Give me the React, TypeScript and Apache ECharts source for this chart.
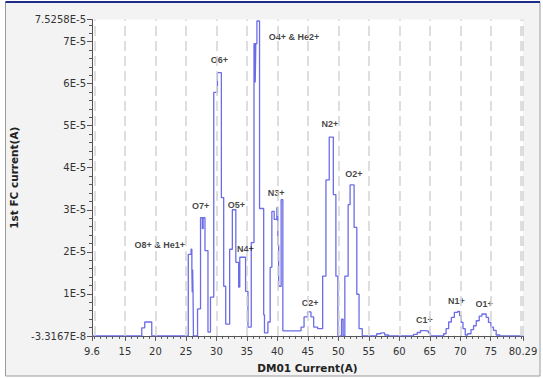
import React, { useEffect, useRef } from "react";
import * as echarts from "echarts";

// Bin start (A) of each step of the trace
const binStart = [
  9.6, 17.76, 18.25, 19.4, 25.39, 25.85, 25.98, 26.04, 26.11, 26.17, 26.24, 26.91,
  27.4, 27.7, 27.83, 28.13, 28.62, 29.03, 29.57, 30.17, 30.82, 31.2, 31.53, 32.18,
  32.62, 33.19, 33.65, 33.84, 34.79, 35.18, 35.72, 36.17, 36.37, 36.47, 36.65, 37.08,
  37.76, 37.89, 38.45, 38.82, 39.1, 39.48, 39.92, 40.08, 40.21, 40.62, 40.9, 43.89,
  44.38, 44.95, 45.52, 45.96, 46.61, 47.43, 47.97, 48.51, 49.18, 49.6, 49.93, 50.53,
  50.79, 51.07, 51.61, 51.93, 52.59, 53.03, 53.4, 53.93, 56.29, 56.95, 57.6, 58.25,
  62.33, 62.94, 63.48, 64.3, 64.78, 65.11, 67.28, 67.67, 68.1, 68.54, 69.03, 69.57,
  69.89, 70.17, 70.45, 70.82, 71.2, 71.76, 72.18, 72.62, 73.11, 73.55, 74.25, 74.63,
  75.02, 75.44, 75.89, 76.5, 80.29,
];
// FC current (A) held over each bin
const fcCurrent = [
  0, 0.19e-5, 0.33e-5, 0, 1.94e-5, 2.06e-5, 1.58e-5, 1.04e-5, 1.58e-5, 1.04e-5, 0, 0.64e-5,
  2.81e-5, 2.55e-5, 2.81e-5, 2.03e-5, 0.09e-5, 0.92e-5, 5.79e-5, 6.26e-5, 3.29e-5, 1.18e-5, 0.28e-5, 2.06e-5,
  3.0e-5, 1.75e-5, 1.16e-5, 1.87e-5, 1.06e-5, 0.21e-5, 2.22e-5, 6.95e-5, 6.03e-5, 6.95e-5, 7.49e-5, 3.03e-5,
  0.5e-5, 0.07e-5, 0.33e-5, 1.63e-5, 2.96e-5, 2.77e-5, 3.05e-5, 2.17e-5, 1.18e-5, 3.24e-5, 0.12e-5, 0.21e-5,
  0.45e-5, 0.57e-5, 0.45e-5, 0.21e-5, 0.17e-5, 1.42e-5, 3.71e-5, 4.73e-5, 3.36e-5, 1.42e-5, 0, 0.4e-5,
  0, 1.42e-5, 3.12e-5, 3.59e-5, 2.58e-5, 0.99e-5, 0.17e-5, 0, 0.05e-5, 0.07e-5, 0.02e-5, 0,
  0.035e-5, 0.08e-5, 0.125e-5, 0.11e-5, 0.07e-5, 0, 0.05e-5, 0.17e-5, 0.33e-5, 0.44e-5, 0.56e-5, 0.58e-5,
  0.48e-5, 0.32e-5, 0.17e-5, 0.02e-5, 0.05e-5, 0.15e-5, 0.24e-5, 0.36e-5, 0.47e-5, 0.52e-5, 0.44e-5, 0.32e-5,
  0.21e-5, 0.13e-5, 0.02e-5, 0, 0,
];

// Peak annotations
const peakNames = ["O8+ & He1+", "O7+", "O6+", "O5+", "N4+", "O4+ & He2+", "N3+", "C2+", "N2+", "O2+", "C1+", "N1+", "O1+"];
const peakX = [20.7, 27.4, 30.5, 33.27, 34.74, 42.74, 39.8, 45.36, 48.62, 52.54, 64.13, 69.36, 73.93];
const peakY = [2.15e-5, 3.1e-5, 6.57e-5, 3.12e-5, 2.06e-5, 7.12e-5, 3.4e-5, 0.78e-5, 5.04e-5, 3.85e-5, 0.38e-5, 0.83e-5, 0.76e-5];

// Axes
const xMin = 9.6;
const xMax = 80.29;
const xTickValues = [9.6, 15, 20, 25, 30, 35, 40, 45, 50, 55, 60, 65, 70, 75, 80.29];
const xTickLabels = ["9.6", "15", "20", "25", "30", "35", "40", "45", "50", "55", "60", "65", "70", "75", "80.29"];
const xMinorTicks = Array.from({ length: 71 }, (_, i) => 10 + i);
const xGridLines = [10, 15, 20, 25, 30, 35, 40, 45, 50, 55, 60, 65, 70, 75, 80, 80.29];

const yMin = -3.3167e-8;
const yMax = 7.5258e-5;
const yTickValues = [-3.3167e-8, 1e-5, 2e-5, 3e-5, 4e-5, 5e-5, 6e-5, 7e-5, 7.5258e-5];
const yTickLabels = ["-3.3167E-8", "1E-5", "2E-5", "3E-5", "4E-5", "5E-5", "6E-5", "7E-5", "7.5258E-5"];
const yMinorTicks = Array.from({ length: 37 }, (_, i) => (i + 1) * 2e-6);

const FONT = "DejaVu Sans";

function nearestLabel(v: number, vals: number[], labels: string[]) {
  let best = 0;
  for (let i = 1; i < vals.length; i++) {
    if (Math.abs(vals[i] - v) < Math.abs(vals[best] - v)) best = i;
  }
  return labels[best];
}

export default function App() {
  const ref = useRef<HTMLDivElement>(null);
  useEffect(() => {
    if (!ref.current) return;
    const chart = echarts.init(ref.current, null, { renderer: "svg" });
    const axisLineStyle = { color: "#555", width: 1 };
    chart.setOption({
      animation: false,
      backgroundColor: "#ffffff",
      graphic: [
        {
          type: "rect",
          z: -10,
          shape: { x: 5.5, y: 2, width: 534.5, height: 374 },
          style: { fill: "#f3f3f3", stroke: "#9a9a9a", lineWidth: 1 },
        },
        {
          type: "line",
          z: -9,
          shape: { x1: 5.5, y1: 2, x2: 540, y2: 2 },
          style: { stroke: "#1c2c88", lineWidth: 2 },
        },
      ],
      grid: {
        left: 91,
        right: 20,
        top: 19.5,
        bottom: 41,
        show: true,
        backgroundColor: "#ffffff",
        borderWidth: 0,
      },
      xAxis: [
        {
          type: "value",
          min: xMin,
          max: xMax,
          name: "DM01 Current(A)",
          nameLocation: "middle",
          nameGap: 26,
          nameTextStyle: { fontFamily: FONT, fontSize: 10.5, fontWeight: "bold", color: "#222" },
          axisLine: { show: true, lineStyle: axisLineStyle },
          axisTick: { show: true, length: 5, customValues: xTickValues, lineStyle: axisLineStyle },
          axisLabel: {
            customValues: xTickValues,
            fontFamily: FONT,
            fontSize: 10,
            color: "#333",
            margin: 10,
            formatter: (v: number) => nearestLabel(v, xTickValues, xTickLabels),
          },
          splitLine: { show: false },
        },
        {
          type: "value",
          min: xMin,
          max: xMax,
          position: "bottom",
          axisLine: { show: false },
          axisTick: { show: true, length: 3, customValues: xMinorTicks, lineStyle: axisLineStyle },
          axisLabel: { show: false },
          splitLine: { show: false },
        },
      ],
      yAxis: [
        {
          type: "value",
          min: yMin,
          max: yMax,
          name: "1st FC current(A)",
          nameLocation: "middle",
          nameGap: 73,
          nameRotate: 90,
          nameTextStyle: { fontFamily: FONT, fontSize: 10.5, fontWeight: "bold", color: "#222" },
          axisLine: { show: true, lineStyle: axisLineStyle },
          axisTick: { show: true, length: 5, customValues: yTickValues, lineStyle: axisLineStyle },
          axisLabel: {
            customValues: yTickValues,
            fontFamily: FONT,
            fontSize: 10,
            color: "#333",
            margin: 6,
            formatter: (v: number) => nearestLabel(v, yTickValues, yTickLabels),
          },
          splitLine: { show: false },
        },
        {
          type: "value",
          min: yMin,
          max: yMax,
          position: "left",
          axisLine: { show: false },
          axisTick: { show: true, length: 3, customValues: yMinorTicks, lineStyle: axisLineStyle },
          axisLabel: { show: false },
          splitLine: { show: false },
        },
      ],
      series: [
        {
          type: "line",
          name: "grid",
          xAxisIndex: 0,
          yAxisIndex: 0,
          data: [],
          z: 1,
          silent: true,
          markLine: {
            silent: true,
            symbol: ["none", "none"],
            label: { show: false },
            lineStyle: { color: "#d4d4d4", type: [10, 5], width: 1.5 },
            data: xGridLines.map((x) => ({ xAxis: x })),
          },
        },
        {
          type: "line",
          name: "FC",
          xAxisIndex: 0,
          yAxisIndex: 0,
          step: "end",
          showSymbol: false,
          symbol: "none",
          z: 3,
          lineStyle: { color: "#6c6ce8", width: 1.3 },
          data: binStart.map((x, i) => [x, fcCurrent[i]]),
        },
        {
          type: "scatter",
          name: "peaks",
          xAxisIndex: 0,
          yAxisIndex: 0,
          symbolSize: 0,
          z: 4,
          silent: true,
          itemStyle: { color: "transparent" },
          label: {
            show: true,
            position: "inside",
            fontFamily: "Liberation Sans",
            fontSize: 9,
            fontWeight: "bold",
            color: "#111",
            textBorderWidth: 0,
            textShadowBlur: 0,
            formatter: (p: any) => peakNames[p.dataIndex],
          },
          data: peakX.map((x, i) => [x, peakY[i]]),
        },
      ],
    });
    return () => chart.dispose();
  }, []);
  return (
    <div
      ref={ref}
      style={{ position: "absolute", left: 0, top: 0, width: 543, height: 378 }}
    />
  );
}
